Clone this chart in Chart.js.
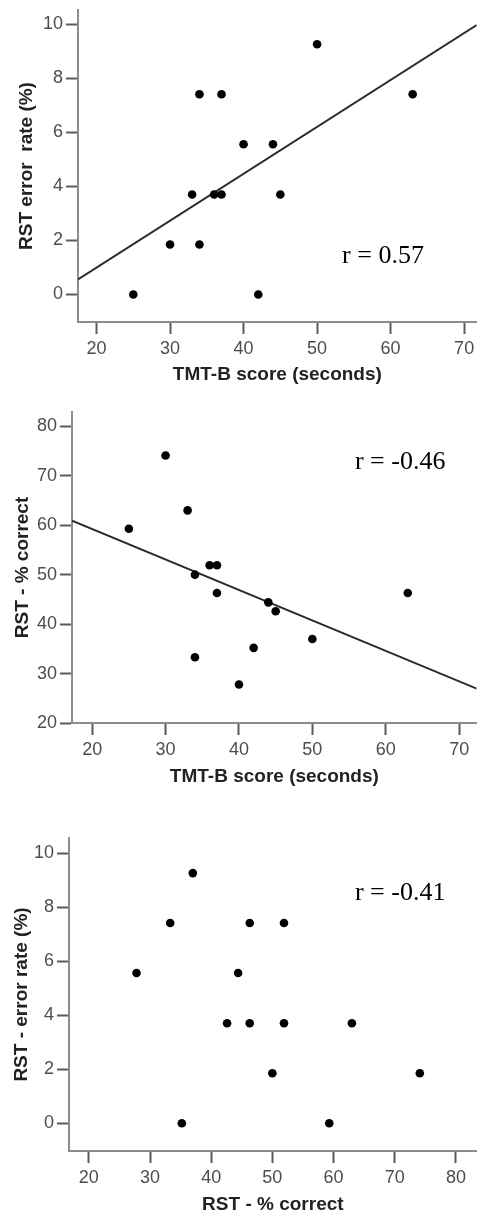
<!DOCTYPE html>
<html>
<head>
<meta charset="utf-8">
<script src="https://cdn.jsdelivr.net/npm/chart.js@4.4.1/dist/chart.umd.min.js"></script>
<style>
  html, body { margin: 0; padding: 0; background: #fff; }
  body { width: 481px; height: 1219px; position: relative; overflow: hidden; }
  canvas { position: absolute; left: 0; }
</style>
</head>
<body>
<canvas id="chartTmtError" width="481" height="400" style="top:0px"></canvas>
<canvas id="chartTmtCorrect" width="481" height="400" style="top:400px"></canvas>
<canvas id="chartCorrectError" width="481" height="419" style="top:800px"></canvas>
<script>
// One entry per participant (same order in every array)
const tmtScore   = [25, 30, 33, 34, 34, 36, 37, 37, 40, 42, 44, 45, 50, 63];
const errorRate  = [0, 1.85, 3.7, 7.41, 1.85, 3.7, 3.7, 7.41, 5.56, 0, 5.56, 3.7, 9.26, 7.41];
const pctCorrect = [59.3, 74.1, 63, 33.3, 50, 51.9, 46.3, 51.9, 27.8, 35.2, 44.4, 42.6, 37, 46.3];

// Fit lines (end points at the axis edges)
const fitTmtErrorX   = [17.48, 71.71];
const fitTmtErrorY   = [0.56, 9.97];
const fitTmtCorrectX = [17.25, 72.39];
const fitTmtCorrectY = [60.9, 26.96];

// Tick labels
const tmtTicks      = [20, 30, 40, 50, 60, 70];
const errorTicks    = [0, 2, 4, 6, 8, 10];
const correctTicks  = [20, 30, 40, 50, 60, 70, 80];
const correctXTicks = [20, 30, 40, 50, 60, 70, 80];

const SANS = "'Liberation Sans', Arial, sans-serif";

const toPoints = (xs, ys) => xs.map((x, i) => ({ x: x, y: ys[i] }));

// Draws the "r = ..." text at a data position
const rLabelPlugin = {
    id: "rLabel",
    afterDatasetsDraw(chart, args, opts) {
        if (!opts.text) return;
        const ctx = chart.ctx;
        const px = chart.scales.x.getPixelForValue(opts.x);
        const py = chart.scales.y.getPixelForValue(opts.y);
        ctx.save();
        ctx.font = "26px 'Liberation Serif', 'Times New Roman', serif";
        ctx.fillStyle = "#000";
        ctx.textAlign = "left";
        ctx.textBaseline = "middle";
        ctx.fillText(opts.text, px, py);
        ctx.restore();
    }
};

function axis(cfg) {
    return {
        type: "linear",
        min: cfg.min,
        max: cfg.max,
        afterBuildTicks: (scale) => { scale.ticks = cfg.ticks.map(v => ({ value: v })); },
        afterFit: (scale) => {
            if (cfg.width) scale.width = cfg.width;
            if (cfg.height) scale.height = cfg.height;
            scale.paddingLeft = 0; scale.paddingRight = 0;
            scale.paddingTop = 0; scale.paddingBottom = 0;
        },
        border: { display: true, color: "#8c8c8c", width: 2 },
        grid: { drawOnChartArea: false, drawTicks: true, tickLength: 12, tickWidth: 2, tickColor: "#5a5a5a" },
        ticks: { color: "#4d4d4d", font: { family: SANS, size: 18 }, padding: cfg.tickPad },
        title: {
            display: true,
            text: cfg.title,
            color: "#222",
            font: { family: SANS, size: 19, weight: "bold" },
            padding: cfg.titlePad
        }
    };
}

function makeChart(id, o) {
    const datasets = [{
        type: "scatter",
        data: toPoints(o.xs, o.ys),
        pointRadius: 4.3,
        pointBackgroundColor: "#000",
        pointBorderWidth: 0
    }];
    if (o.fitX) {
        datasets.push({
            type: "line",
            data: toPoints(o.fitX, o.fitY),
            borderColor: "#2a2a2a",
            borderWidth: 2,
            pointRadius: 0,
            fill: false
        });
    }
    return new Chart(document.getElementById(id), {
        type: "scatter",
        data: { datasets: datasets },
        options: {
            responsive: false,
            animation: false,
            events: [],
            layout: { padding: { top: o.top, left: 0, right: 0, bottom: 0 } },
            plugins: {
                legend: { display: false },
                tooltip: { enabled: false },
                rLabel: o.label
            },
            scales: {
                x: axis({ min: o.xMin, max: o.xMax, ticks: o.xTicks, height: o.xHeight, title: o.xTitle,
                          tickPad: 4, titlePad: { top: 0, bottom: o.xTitlePad } }),
                y: axis({ min: o.yMin, max: o.yMax, ticks: o.yTicks, width: o.yWidth, title: o.yTitle,
                          tickPad: 3, titlePad: { top: o.yTitlePad, bottom: 0 } })
            }
        },
        plugins: [rLabelPlugin]
    });
}

document.addEventListener("DOMContentLoaded", () => {
    // TMT-B vs error rate
    makeChart("chartTmtError", {
        xs: tmtScore, ys: errorRate, fitX: fitTmtErrorX, fitY: fitTmtErrorY,
        xMin: 17.48, xMax: 71.71, yMin: -1.02, yMax: 10.53,
        xTicks: tmtTicks, yTicks: errorTicks,
        xTitle: "TMT-B score (seconds)", yTitle: "RST error  rate (%)",
        top: 10, yWidth: 78, xHeight: 78, xTitlePad: 14, yTitlePad: 15.6,
        label: { text: "r = 0.57", x: 53.4, y: 1.42 }
    });

    // TMT-B vs % correct
    makeChart("chartTmtCorrect", {
        xs: tmtScore, ys: pctCorrect, fitX: fitTmtCorrectX, fitY: fitTmtCorrectY,
        xMin: 17.25, xMax: 72.39, yMin: 20, yMax: 82.9,
        xTicks: tmtTicks, yTicks: correctTicks,
        xTitle: "TMT-B score (seconds)", yTitle: "RST - % correct",
        top: 12, yWidth: 72, xHeight: 77, xTitlePad: 11.6, yTitlePad: 11.6,
        label: { text: "r = -0.46", x: 55.8, y: 72.8 }
    });

    // % correct vs error rate
    makeChart("chartCorrectError", {
        xs: pctCorrect, ys: errorRate,
        xMin: 16.76, xMax: 83.4, yMin: -1.03, yMax: 10.56,
        xTicks: correctXTicks, yTicks: errorTicks,
        xTitle: "RST - % correct", yTitle: "RST - error rate (%)",
        top: 38, yWidth: 69, xHeight: 68, xTitlePad: 2.6, yTitlePad: 10.3,
        label: { text: "r = -0.41", x: 63.5, y: 8.52 }
    });
});
</script>
</body>
</html>
